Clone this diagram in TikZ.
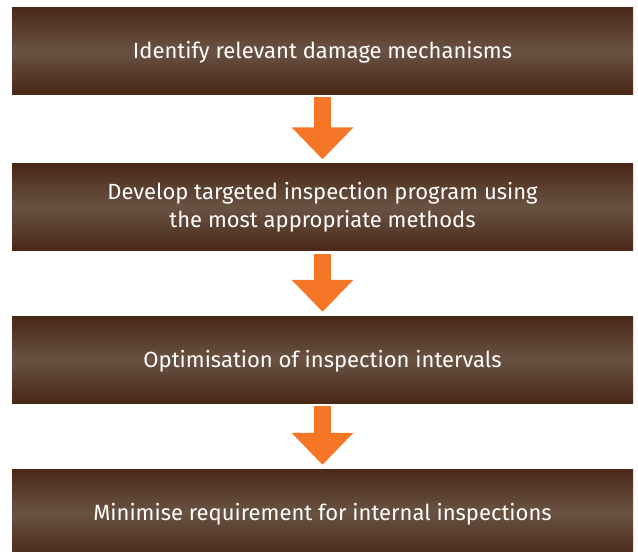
\documentclass[tikz,border=0pt]{standalone}
\usepackage{fontspec}
\setmainfont{Fira Sans}
\usetikzlibrary{arrows.meta}
\definecolor{bark}{RGB}{74,40,24}
\definecolor{barkmid}{RGB}{90,62,46}
\definecolor{barklight}{RGB}{106,82,66}
\definecolor{flame}{RGB}{244,118,38}
\pgfdeclareverticalshading{barkband}{100bp}{color(0bp)=(bark); color(25bp)=(bark); color(38bp)=(barkmid);
  color(50bp)=(barklight); color(62bp)=(barkmid); color(75bp)=(bark); color(100bp)=(bark)}
\begin{document}
\begin{tikzpicture}[x=1pt,y=-1pt,
    stage/.style={rectangle,inner sep=0pt,minimum width=621pt,minimum height=87pt,
      shading=barkband,text=white,align=center,
      font=\fontsize{22}{28}\selectfont},
    oneline/.style={stage,text height=21pt},
    flow/.style={flame,line width=17pt,-{Triangle[length=32pt,width=60pt]},shorten <=3pt,shorten >=4pt}]
  \useasboundingbox (0,0) rectangle (638,552);
  \begin{scope}
    \clip (0,0) rectangle (638,552);
    \node[oneline] (damage) at (322.5,50.5) {Identify relevant damage mechanisms};
    \node[stage] (program) at (322.5,207) {Develop targeted inspection program using\\the most appropriate methods};
    \node[oneline] (interval) at (322.5,359.5) {Optimisation of inspection intervals};
    \node[oneline] (internal) at (322.5,512.5) {Minimise requirement for internal inspections};
  \end{scope}
  \draw[flow] (damage.south) -- (program.north);
  \draw[flow] (program.south) -- (interval.north);
  \draw[flow] (interval.south) -- (internal.north);
\end{tikzpicture}
\end{document}
